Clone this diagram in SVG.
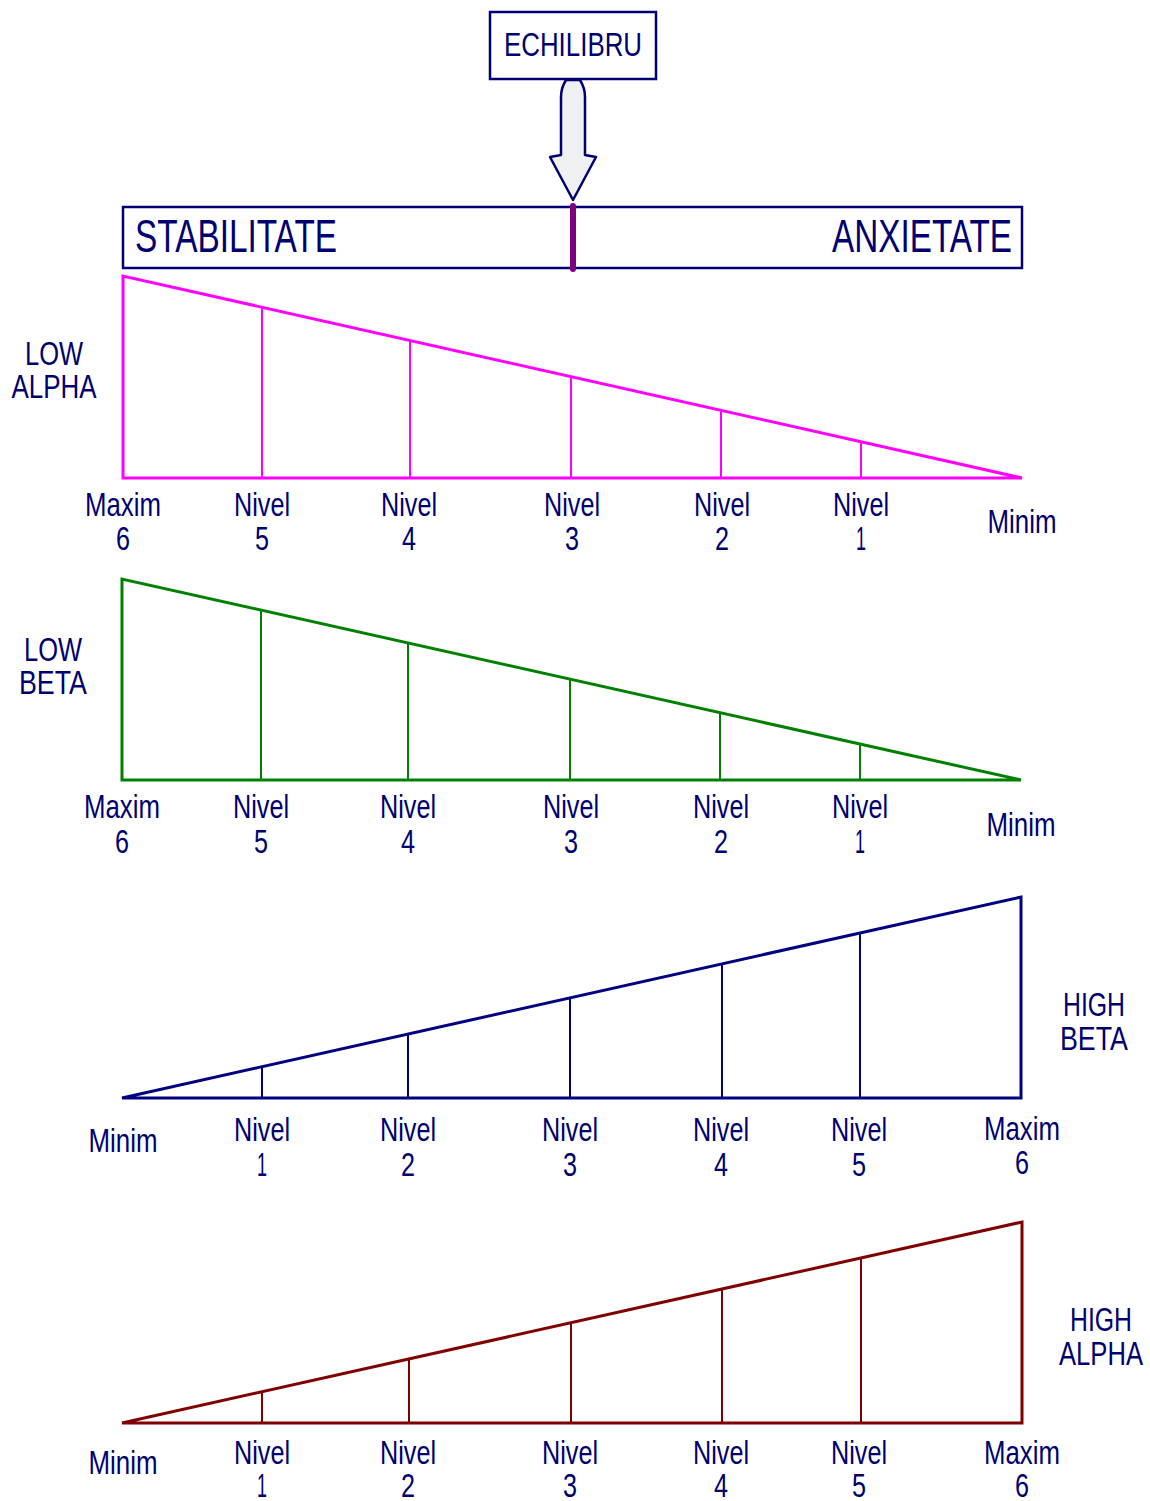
<svg xmlns="http://www.w3.org/2000/svg" width="1150" height="1501" viewBox="0 0 1150 1501">
<style>
text{font-family:"Liberation Sans",Arial,sans-serif;fill:#000070;text-anchor:middle;font-size:34px}
.big{font-size:47px}
.box{fill:#fff;stroke:#000070;stroke-width:2.5}
.tri{fill:none;stroke-width:3;stroke-linejoin:miter}
.tick{stroke-width:2}
</style>
<rect width="1150" height="1501" fill="#fff"/>
<g id="echilibru">
<rect class="box" x="490" y="12" width="166" height="67"/>
<text x="573" y="56" textLength="138" lengthAdjust="spacingAndGlyphs">ECHILIBRU</text>
</g>
<g id="connectors">
<path d="M566,80 L580,80 Q585,88 585,97 L585,155 L596,157 L573,200 L550,157 L561,155 L561,97 Q561,88 566,80 Z" fill="#eef0f1" stroke="#000070" stroke-width="2.5" stroke-linejoin="round"/>
</g>
<g id="bar">
<rect class="box" x="123" y="207" width="899" height="61"/>
<text class="big" x="135" y="252" style="text-anchor:start" textLength="202" lengthAdjust="spacingAndGlyphs">STABILITATE</text>
<text class="big" x="1012" y="252" style="text-anchor:end" textLength="180" lengthAdjust="spacingAndGlyphs">ANXIETATE</text>
<line x1="573" y1="206" x2="573" y2="269" stroke="#800080" stroke-width="6" stroke-linecap="round"/>
</g>
<g id="low-alpha">
<path class="tri" d="M123,276 L123,478 L1022,478 Z" stroke="#ff00ff"/>
<g stroke="#ff00ff" class="tick">
<line x1="262" y1="307" x2="262" y2="478"/><line x1="410" y1="340.5" x2="410" y2="478"/><line x1="571" y1="376.7" x2="571" y2="478"/><line x1="721" y1="410.4" x2="721" y2="478"/><line x1="861" y1="441.8" x2="861" y2="478"/>
</g>
<text x="54" y="365" textLength="58" lengthAdjust="spacingAndGlyphs">LOW</text>
<text x="54" y="398" textLength="85" lengthAdjust="spacingAndGlyphs">ALPHA</text>
<text x="123" y="516" textLength="76" lengthAdjust="spacingAndGlyphs">Maxim</text><text x="123" y="550" textLength="14" lengthAdjust="spacingAndGlyphs">6</text>
<text x="262" y="516" textLength="56" lengthAdjust="spacingAndGlyphs">Nivel</text><text x="262" y="550" textLength="14" lengthAdjust="spacingAndGlyphs">5</text>
<text x="409" y="516" textLength="56" lengthAdjust="spacingAndGlyphs">Nivel</text><text x="409" y="550" textLength="14" lengthAdjust="spacingAndGlyphs">4</text>
<text x="572" y="516" textLength="56" lengthAdjust="spacingAndGlyphs">Nivel</text><text x="572" y="550" textLength="14" lengthAdjust="spacingAndGlyphs">3</text>
<text x="722" y="516" textLength="56" lengthAdjust="spacingAndGlyphs">Nivel</text><text x="722" y="550" textLength="14" lengthAdjust="spacingAndGlyphs">2</text>
<text x="861" y="516" textLength="56" lengthAdjust="spacingAndGlyphs">Nivel</text><text x="861" y="550" textLength="10" lengthAdjust="spacingAndGlyphs">1</text>
<text x="1022" y="533" textLength="69" lengthAdjust="spacingAndGlyphs">Minim</text>
</g>
<g id="low-beta">
<path class="tri" d="M122,579 L122,780 L1021,780 Z" stroke="#008000"/>
<g stroke="#008000" class="tick">
<line x1="261" y1="610" x2="261" y2="780"/><line x1="408" y1="643" x2="408" y2="780"/><line x1="570" y1="679.2" x2="570" y2="780"/><line x1="720" y1="712.7" x2="720" y2="780"/><line x1="860" y1="744" x2="860" y2="780"/>
</g>
<text x="53" y="661" textLength="58" lengthAdjust="spacingAndGlyphs">LOW</text>
<text x="53" y="694" textLength="68" lengthAdjust="spacingAndGlyphs">BETA</text>
<text x="122" y="818" textLength="76" lengthAdjust="spacingAndGlyphs">Maxim</text><text x="122" y="853" textLength="14" lengthAdjust="spacingAndGlyphs">6</text>
<text x="261" y="818" textLength="56" lengthAdjust="spacingAndGlyphs">Nivel</text><text x="261" y="853" textLength="14" lengthAdjust="spacingAndGlyphs">5</text>
<text x="408" y="818" textLength="56" lengthAdjust="spacingAndGlyphs">Nivel</text><text x="408" y="853" textLength="14" lengthAdjust="spacingAndGlyphs">4</text>
<text x="571" y="818" textLength="56" lengthAdjust="spacingAndGlyphs">Nivel</text><text x="571" y="853" textLength="14" lengthAdjust="spacingAndGlyphs">3</text>
<text x="721" y="818" textLength="56" lengthAdjust="spacingAndGlyphs">Nivel</text><text x="721" y="853" textLength="14" lengthAdjust="spacingAndGlyphs">2</text>
<text x="860" y="818" textLength="56" lengthAdjust="spacingAndGlyphs">Nivel</text><text x="860" y="853" textLength="10" lengthAdjust="spacingAndGlyphs">1</text>
<text x="1021" y="836" textLength="69" lengthAdjust="spacingAndGlyphs">Minim</text>
</g>
<g id="high-beta">
<path class="tri" d="M122,1098 L1021,1098 L1021,897 Z" stroke="#000080"/>
<g stroke="#000080" class="tick">
<line x1="262" y1="1066.7" x2="262" y2="1098"/><line x1="408" y1="1034.1" x2="408" y2="1098"/><line x1="570" y1="997.8" x2="570" y2="1098"/><line x1="722" y1="963.8" x2="722" y2="1098"/><line x1="860" y1="933" x2="860" y2="1098"/>
</g>
<text x="1094" y="1016" textLength="62" lengthAdjust="spacingAndGlyphs">HIGH</text>
<text x="1094" y="1050" textLength="68" lengthAdjust="spacingAndGlyphs">BETA</text>
<text x="123" y="1152" textLength="69" lengthAdjust="spacingAndGlyphs">Minim</text>
<text x="262" y="1141" textLength="56" lengthAdjust="spacingAndGlyphs">Nivel</text><text x="262" y="1176" textLength="10" lengthAdjust="spacingAndGlyphs">1</text>
<text x="408" y="1141" textLength="56" lengthAdjust="spacingAndGlyphs">Nivel</text><text x="408" y="1176" textLength="14" lengthAdjust="spacingAndGlyphs">2</text>
<text x="570" y="1141" textLength="56" lengthAdjust="spacingAndGlyphs">Nivel</text><text x="570" y="1176" textLength="14" lengthAdjust="spacingAndGlyphs">3</text>
<text x="721" y="1141" textLength="56" lengthAdjust="spacingAndGlyphs">Nivel</text><text x="721" y="1176" textLength="14" lengthAdjust="spacingAndGlyphs">4</text>
<text x="859" y="1141" textLength="56" lengthAdjust="spacingAndGlyphs">Nivel</text><text x="859" y="1176" textLength="14" lengthAdjust="spacingAndGlyphs">5</text>
<text x="1022" y="1140" textLength="76" lengthAdjust="spacingAndGlyphs">Maxim</text><text x="1022" y="1174" textLength="14" lengthAdjust="spacingAndGlyphs">6</text>
</g>
<g id="high-alpha">
<path class="tri" d="M122,1423 L1022,1423 L1022,1222 Z" stroke="#800000"/>
<g stroke="#800000" class="tick">
<line x1="262" y1="1391.7" x2="262" y2="1423"/><line x1="409" y1="1358.9" x2="409" y2="1423"/><line x1="571" y1="1322.7" x2="571" y2="1423"/><line x1="722" y1="1289" x2="722" y2="1423"/><line x1="861" y1="1258" x2="861" y2="1423"/>
</g>
<text x="1101" y="1331" textLength="62" lengthAdjust="spacingAndGlyphs">HIGH</text>
<text x="1101" y="1365" textLength="84" lengthAdjust="spacingAndGlyphs">ALPHA</text>
<text x="123" y="1474" textLength="69" lengthAdjust="spacingAndGlyphs">Minim</text>
<text x="262" y="1464" textLength="56" lengthAdjust="spacingAndGlyphs">Nivel</text><text x="262" y="1497" textLength="10" lengthAdjust="spacingAndGlyphs">1</text>
<text x="408" y="1464" textLength="56" lengthAdjust="spacingAndGlyphs">Nivel</text><text x="408" y="1497" textLength="14" lengthAdjust="spacingAndGlyphs">2</text>
<text x="570" y="1464" textLength="56" lengthAdjust="spacingAndGlyphs">Nivel</text><text x="570" y="1497" textLength="14" lengthAdjust="spacingAndGlyphs">3</text>
<text x="721" y="1464" textLength="56" lengthAdjust="spacingAndGlyphs">Nivel</text><text x="721" y="1497" textLength="14" lengthAdjust="spacingAndGlyphs">4</text>
<text x="859" y="1464" textLength="56" lengthAdjust="spacingAndGlyphs">Nivel</text><text x="859" y="1497" textLength="14" lengthAdjust="spacingAndGlyphs">5</text>
<text x="1022" y="1464" textLength="76" lengthAdjust="spacingAndGlyphs">Maxim</text><text x="1022" y="1497" textLength="14" lengthAdjust="spacingAndGlyphs">6</text>
</g>
</svg>
